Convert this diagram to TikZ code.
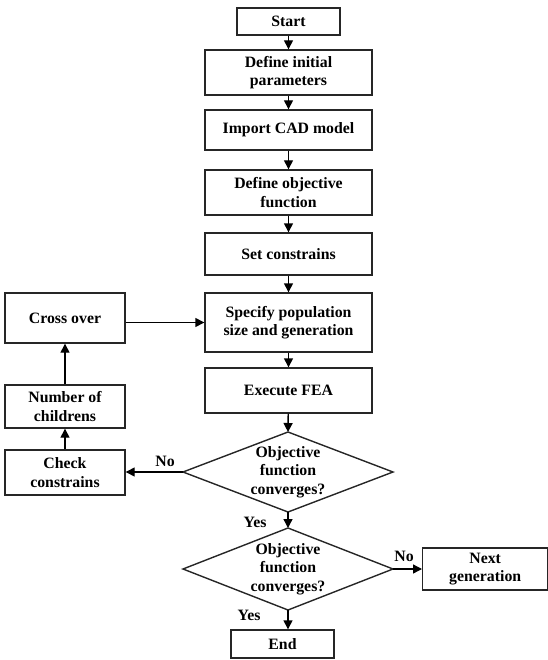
\documentclass[tikz,border=0pt]{standalone}
\usepackage{fontspec}
\setmainfont{Liberation Serif}
\usetikzlibrary{arrows.meta,shapes.geometric}
\begin{document}
\begin{tikzpicture}[x=1pt,y=-1pt,
  box/.style={draw=black!85,line width=1.4pt,rectangle,inner sep=0pt,align=center,
    font=\fontsize{15.8}{18.5}\selectfont\bfseries},
  dia/.style={draw=black!85,line width=1.4pt},
  lbl/.style={font=\fontsize{15.8}{18.5}\selectfont\bfseries,inner sep=0pt},
  arr/.style={line width=1.4pt,-{Triangle[length=9pt,width=9pt]}}]
\useasboundingbox (0,0) rectangle (547,660);
\node[box,minimum width=103pt,minimum height=27pt] (start) at (288.5,21.5) {Start};
\node[box,minimum width=167pt,minimum height=45pt] (def) at (288.5,72.5) {Define initial\\parameters};
\node[box,minimum width=167pt,minimum height=40pt] (cad) at (288.5,130) {Import CAD model};
\node[box,minimum width=167pt,minimum height=45pt] (obj) at (288.5,192.5) {Define objective\\function};
\node[box,minimum width=167pt,minimum height=42pt] (con) at (288.5,254) {Set constrains};
\node[box,minimum width=167pt,minimum height=59pt] (pop) at (288.5,322.5) {Specify population\\size and generation};
\node[box,minimum width=167pt,minimum height=45pt] (fea) at (288.5,390.5) {Execute FEA};
\draw[dia] (183,472) -- (288,432) -- (393,472) -- (288,512) -- cycle;
\node[lbl,align=center] (d1) at (288,472) {Objective\\function\\converges?};
\coordinate (d1l) at (183,472);
\coordinate (d1t) at (288,432);
\coordinate (d1b) at (288,512);
\draw[dia] (183,569) -- (288,528) -- (393,569) -- (288,610) -- cycle;
\node[lbl,align=center] (d2) at (288,569) {Objective\\function\\converges?};
\coordinate (d2r) at (393,569);
\coordinate (d2t) at (288,528);
\coordinate (d2b) at (288,610);
\node[box,minimum width=120pt,minimum height=45pt] (chk) at (65,472.5) {Check\\constrains};
\node[box,minimum width=120pt,minimum height=43pt] (num) at (65,406.5) {Number of\\childrens};
\node[box,minimum width=120pt,minimum height=50pt] (cross) at (65,318) {Cross over};
\node[box,minimum width=125pt,minimum height=42pt,anchor=west] (next) at (422,569) {Next\\generation};
\node[box,minimum width=103pt,minimum height=28pt] (end) at (282.5,644) {End};
\draw[arr] (start) -- (def);
\draw[arr] (def) -- (cad);
\draw[arr] (cad) -- (obj);
\draw[arr] (obj) -- (con);
\draw[arr] (con) -- (pop);
\draw[arr] (pop) -- (fea);
\draw[arr] (fea) -- (d1t);
\draw[arr] (d1b) -- (d2t);
\draw[arr] (d1l) -- (chk.east |- d1l);
\draw[arr] (chk) -- (num);
\draw[arr] (num) -- (cross);
\draw[arr] (cross.east |- pop.west) -- (pop.west);
\draw[arr] (d2r) -- (next.west);
\draw[arr] (d2b) -- (end.north -| d2b);
\node[lbl] (no1) at (165,461) {No};
\node[lbl] (yes1) at (255,522) {Yes};
\node[lbl] (no2) at (404,556) {No};
\node[lbl] (yes2) at (249,615) {Yes};
\end{tikzpicture}
\end{document}
